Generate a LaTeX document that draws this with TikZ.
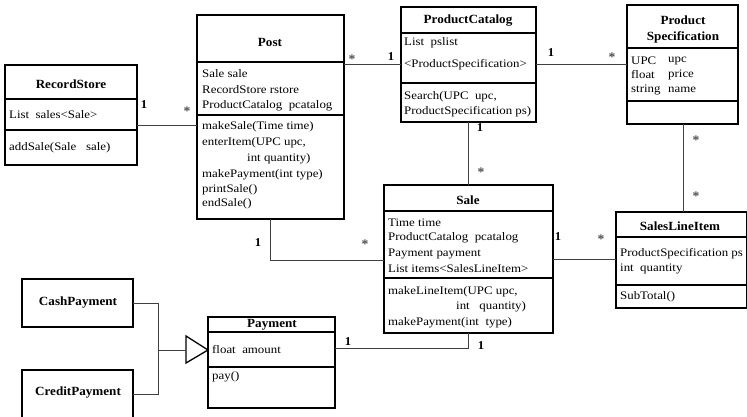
\documentclass[tikz,border=0pt]{standalone}
\usepackage{fontspec}
\setmainfont{Liberation Serif}
\newfontfamily\bodyf[FakeStretch=1.12]{Liberation Serif}
\newfontfamily\titlef[FakeStretch=1.05]{Liberation Serif Bold}
\begin{document}
\begin{tikzpicture}[x=1pt,y=-1pt,
  cls/.style={draw=black,line width=1.3pt,inner sep=0pt,outer sep=0pt,anchor=north west,fill=white},
  thickcls/.style={cls,line width=2.4pt},
  divline/.style={line width=1.6pt},
  conn/.style={draw=black!75,line width=0.8pt},
  txt/.style={anchor=west,inner sep=0pt,font=\bodyf\fontsize{11.5}{13}\selectfont},
  ttl/.style={anchor=center,inner sep=0pt,font=\titlef\fontsize{12.5}{14}\selectfont},
  mult/.style={anchor=center,inner sep=0pt,font=\titlef\fontsize{12}{14}\selectfont},
  star/.style={anchor=center,inner sep=0pt,text=black!70,font=\titlef\fontsize{13}{14}\selectfont}]
\useasboundingbox (0,0) rectangle (747,417);
\fill[white] (0,0) rectangle (747,417);

% ---------- class boxes ----------
\node[cls,minimum width=132pt,minimum height=100pt] (rs) at (5,65) {};
\node[thickcls,minimum width=147pt,minimum height=204pt] (post) at (197,15) {};
\node[cls,minimum width=135pt,minimum height=115pt] (pc) at (401,7) {};
\node[cls,minimum width=111pt,minimum height=119pt] (ps) at (627,5) {};
\node[cls,minimum width=169pt,minimum height=148pt] (sale) at (384,185) {};
\node[cls,minimum width=131pt,minimum height=96pt] (sli) at (616,212) {};
\node[cls,minimum width=127pt,minimum height=91pt] (pay) at (208,317) {};
\node[cls,minimum width=111pt,minimum height=48pt] (cash) at (22,279) {};
\node[cls,minimum width=111pt,minimum height=50pt] (credit) at (22,370) {};

% ---------- dividers ----------
\draw[divline] (rs.west |- 0,99) -- (rs.east |- 0,99);
\draw[divline] (rs.west |- 0,130) -- (rs.east |- 0,130);
\draw[divline] (post.west |- 0,62) -- (post.east |- 0,62);
\draw[divline] (post.west |- 0,115) -- (post.east |- 0,115);
\draw[divline] (pc.west |- 0,33) -- (pc.east |- 0,33);
\draw[divline] (pc.west |- 0,83) -- (pc.east |- 0,83);
\draw[divline] (ps.west |- 0,48) -- (ps.east |- 0,48);
\draw[divline] (ps.west |- 0,101) -- (ps.east |- 0,101);
\draw[divline] (sale.west |- 0,211) -- (sale.east |- 0,211);
\draw[divline] (sale.west |- 0,278) -- (sale.east |- 0,278);
\draw[divline] (sli.west |- 0,237) -- (sli.east |- 0,237);
\draw[divline] (sli.west |- 0,285) -- (sli.east |- 0,285);
\draw[divline] (pay.west |- 0,332) -- (pay.east |- 0,332);
\draw[divline] (pay.west |- 0,367) -- (pay.east |- 0,367);

% ---------- titles ----------
\node[ttl] (rsT) at (71,84) {RecordStore};
\node[ttl] (postT) at (270,42) {Post};
\node[ttl] (pcT) at (468,21) {ProductCatalog};
\node[ttl] (psT1) at (683,20) {Product};
\node[ttl] (psT2) at (683,37) {Specification};
\node[ttl] (saleT) at (468,200) {Sale};
\node[ttl] (sliT) at (680,226) {SalesLineItem};
\node[ttl] (payT) at (272,325) {Payment};
\node[ttl] (cashT) at (78,303) {CashPayment};
\node[ttl] (creditT) at (78,393) {CreditPayment};

% ---------- RecordStore ----------
\node[txt] (rsA1) at (9,115) {List\ \ sales<Sale>};
\node[txt] (rsM1) at (9,148) {addSale(Sale\ \ \ sale)};

% ---------- Post ----------
\node[txt] (postA1) at (202,74) {Sale sale};
\node[txt] (postA2) at (202,90) {RecordStore rstore};
\node[txt] (postA3) at (202,106) {ProductCatalog\ \ pcatalog};
\node[txt] (postM1) at (202,127) {makeSale(Time time)};
\node[txt] (postM2) at (202,143) {enterItem(UPC upc,};
\node[txt] (postM3) at (247,159) {int quantity)};
\node[txt] (postM4) at (202,175) {makePayment(int type)};
\node[txt] (postM5) at (202,190) {printSale()};
\node[txt] (postM6) at (202,204) {endSale()};

% ---------- ProductCatalog ----------
\node[txt] (pcA1) at (404,43) {List\ \ pslist};
\node[txt] (pcA2) at (404,65) {<ProductSpecification>};
\node[txt] (pcM1) at (404,97) {Search(UPC\ \ upc,};
\node[txt] (pcM2) at (404,112) {ProductSpecification ps)};

% ---------- ProductSpecification ----------
\node[txt] (psA1) at (631,61) {UPC};
\node[txt] (psA1b) at (668,61) {upc};
\node[txt] (psA2) at (631,75) {float};
\node[txt] (psA2b) at (668,75) {price};
\node[txt] (psA3) at (631,90) {string};
\node[txt] (psA3b) at (668,90) {name};

% ---------- Sale ----------
\node[txt] (saleA1) at (388,223) {Time time};
\node[txt] (saleA2) at (388,238) {ProductCatalog\ \ pcatalog};
\node[txt] (saleA3) at (388,254) {Payment payment};
\node[txt] (saleA4) at (388,269) {List items<SalesLineItem>};
\node[txt] (saleM1) at (388,292) {makeLineItem(UPC upc,};
\node[txt] (saleM2) at (456,307) {int\ \ \ quantity)};
\node[txt] (saleM3) at (388,323) {makePayment(int\ \ type)};

% ---------- SalesLineItem ----------
\node[txt] (sliA1) at (620,254) {ProductSpecification ps};
\node[txt] (sliA2) at (620,269) {int\ \ quantity};
\node[txt] (sliM1) at (620,297) {SubTotal()};

% ---------- Payment ----------
\node[txt] (payA1) at (212,350) {float\ \ amount};
\node[txt] (payM1) at (212,377) {pay()};

% ---------- associations ----------
\draw[conn] (rs.east |- 0,125) -- (post.west |- 0,125);
\draw[conn] (post.east |- 0,64) -- (pc.west |- 0,64);
\draw[conn] (pc.east |- 0,64) -- (ps.west |- 0,64);
\draw[conn] (pc.south -| 468,0) -- (sale.north -| 468,0);
\draw[conn] (ps.south -| 683,0) -- (sli.north -| 683,0);
\draw[conn] (post.south -| 270,0) |- (sale.west |- 0,260);
\draw[conn] (sale.east |- 0,259) -- (sli.west |- 0,259);
\draw[conn] (pay.east |- 0,348) -| (sale.south -| 468,0);

% ---------- generalization ----------
\coordinate (tip) at (pay.west |- 0,350);
\draw[line width=1.3pt,fill=white] (tip) -- ++(-22,13) -- ++(0,-27) -- cycle;
\coordinate (junc) at (158,350);
\draw[conn] ([xshift=-22pt]tip) -- (junc);
\draw[conn] (cash.east) -| (junc);
\draw[conn] (credit.east |- 0,394) -| (junc);

% ---------- multiplicities ----------
\node[mult] (m1) at (144,105) {1};
\node[star] (s1) at (187,111) {*};
\node[star] (s2) at (352,59) {*};
\node[mult] (m2) at (391,57) {1};
\node[mult] (m3) at (551,53) {1};
\node[star] (s3) at (612,57) {*};
\node[mult] (m4) at (480,128) {1};
\node[star] (s4) at (481,172) {*};
\node[star] (s5) at (696,140) {*};
\node[star] (s6) at (696,196) {*};
\node[mult] (m5) at (258,243) {1};
\node[star] (s7) at (365,244) {*};
\node[mult] (m6) at (558,237) {1};
\node[star] (s8) at (601,239) {*};
\node[mult] (m7) at (348,342) {1};
\node[mult] (m8) at (481,346) {1};
\end{tikzpicture}
\end{document}
